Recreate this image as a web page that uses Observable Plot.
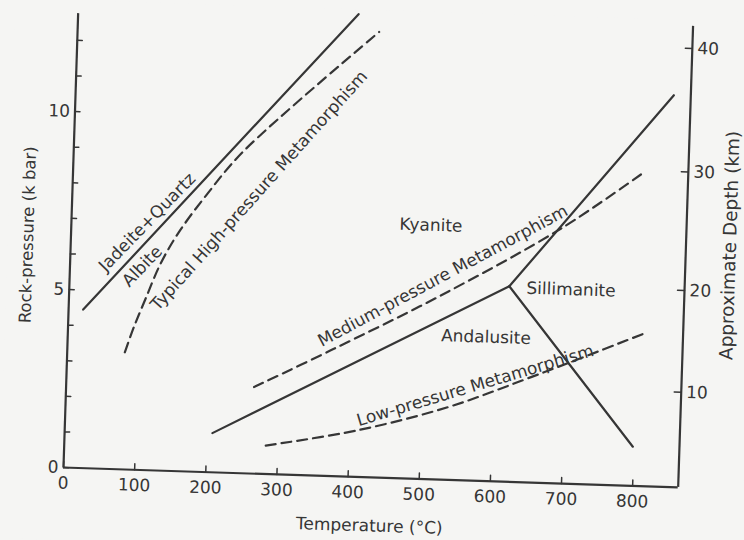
<!DOCTYPE html>
<html>
<head>
<meta charset="utf-8">
<script src="https://cdn.jsdelivr.net/npm/d3@7"></script>
<script src="https://cdn.jsdelivr.net/npm/@observablehq/plot@0.6"></script>
<style>
  html, body { margin: 0; padding: 0; background: #f5f5f3; overflow: hidden; }
  #chart svg { display: block; transform: rotate(1.85deg); transform-origin: 63px 467px; }
</style>
</head>
<body>
<div id="chart"></div>
<script>
// ---- axis ticks ----
const tempTicks = [0, 100, 200, 300, 400, 500, 600, 700, 800];
const pressureTicks = [0, 1, 2, 3, 4, 5, 6, 7, 8, 9, 10, 11, 12];
const pressureLabels = [0, 5, 10];
const depthLabels = [10, 20, 30, 40];
const depthTickKbar = [2.67, 5.53, 8.86, 12.33];
const tempMax = 864;
const pressureMax = 13;
const leftAxisTop = 12.75;
const rightAxisTop = 12.95;

// ---- curves (Temperature °C, Pressure kbar) ----
const jadeiteT = [20.5, 393.8];
const jadeiteP = [4.45, 12.99];

const highPT = [80.9, 92.4, 107.6, 127.1, 151.4, 189.6, 238, 423.5];
const highPP = [3.29, 4.00, 4.81, 5.81, 6.71, 7.81, 9.03, 12.51];

const kyAndT = [207.5, 617.8];
const kyAndP = [1.10, 5.49];
const kySilT = [617.8, 840.2];
const kySilP = [5.49, 11.0];
const andSilT = [617.8, 798.5];
const andSilP = [5.49, 1.10];

const mediumT = [263.9, 370, 522, 688, 802.4];
const mediumP = [2.43, 3.53, 5.17, 7.16, 8.82];

const lowT = [283, 411, 536.7, 652.4, 814.4];
const lowP = [0.80, 1.31, 2.04, 2.96, 4.33];

// ---- annotation anchors ----
const labelText = ["Jadeite+Quartz", "Albite", "Typical High-pressure Metamorphism",
  "Kyanite", "Medium-pressure Metamorphism", "Sillimanite", "Andalusite", "Low-pressure Metamorphism"];
const labelT = [106.5, 101.5, 262, 505, 524, 704.6, 587.3, 574.4];
const labelP = [6.96, 5.72, 7.95, 7.13, 5.72, 5.45, 4.04, 2.67];

const rows = (T, P) => T.map((t, i) => ({T: t, P: P[i]}));
const lbl = (i) => [{text: labelText[i], T: labelT[i], P: labelP[i]}];

const ink = "#363636";
const font = "DejaVu Sans, Verdana, sans-serif";
const solid = {x: "T", y: "P", stroke: ink, strokeWidth: 2.2};
const dashed = {x: "T", y: "P", stroke: ink, strokeWidth: 2.2, strokeDasharray: "10,6", curve: "catmull-rom"};
const txt = (i, rotate) => Plot.text(lbl(i), {x: "T", y: "P", text: "text", rotate, fontSize: 17, fill: ink});
const tickLine = {draw(context, l) { context.moveTo(0, 0); context.lineTo(0, -l); }};

const chart = Plot.plot({
  width: 744,
  height: 540,
  marginLeft: 63,
  marginRight: 66,
  marginTop: 4,
  marginBottom: 73,
  style: {fontFamily: font, background: "#f5f5f3", color: ink},
  x: {domain: [0, tempMax]},
  y: {domain: [0, pressureMax]},
  marks: [
    // frame lines
    Plot.ruleY([0], {x1: 0, x2: tempMax, stroke: ink, strokeWidth: 2.2}),
    Plot.ruleX([0], {y1: 0, y2: leftAxisTop, stroke: ink, strokeWidth: 2.2}),
    Plot.ruleX([tempMax], {y1: 0, y2: rightAxisTop, stroke: ink, strokeWidth: 2.2}),
    // inward tick marks
    Plot.vector(tempTicks, {x: d => d, y: 0, length: 6, rotate: 0, anchor: "start", shape: tickLine, stroke: ink, strokeWidth: 1.5}),
    Plot.vector(pressureTicks, {x: 0, y: d => d, length: 5, rotate: 90, anchor: "start", shape: tickLine, stroke: ink, strokeWidth: 1.5}),
    Plot.vector(depthTickKbar, {x: tempMax, y: d => d, length: 7, rotate: -90, anchor: "start", shape: tickLine, stroke: ink, strokeWidth: 1.5}),
    // tick labels
    Plot.axisX(tempTicks, {tickSize: 0, tickPadding: 9, fontSize: 17, label: null, fill: ink}),
    Plot.axisY(pressureLabels, {tickSize: 0, tickPadding: 5, fontSize: 17, label: null, fill: ink}),
    Plot.axisY(depthTickKbar, {anchor: "right", tickSize: 0, tickPadding: 5, fontSize: 17, label: null, fill: ink,
      tickFormat: d => depthLabels[depthTickKbar.indexOf(d)]}),
    // axis titles
    Plot.text(["Temperature (°C)"], {frameAnchor: "bottom", dy: 54, fontSize: 17, fill: ink}),
    Plot.text(["Rock-pressure (k bar)"], {frameAnchor: "left", textAnchor: "middle", rotate: -90, dx: -43, dy: 0, fontSize: 16.5, fill: ink}),
    Plot.text(["Approximate Depth (km)"], {frameAnchor: "right", textAnchor: "middle", rotate: -90, dx: 44, dy: -12, fontSize: 18.5, fill: ink}),
    // phase boundaries
    Plot.line(rows(jadeiteT, jadeiteP), solid),
    Plot.line(rows(kyAndT, kyAndP), solid),
    Plot.line(rows(kySilT, kySilP), solid),
    Plot.line(rows(andSilT, andSilP), solid),
    // metamorphic gradients
    Plot.line(rows(highPT, highPP), dashed),
    Plot.line(rows(mediumT, mediumP), dashed),
    Plot.line(rows(lowT, lowP), dashed),
    // labels
    txt(0, -47.5),
    txt(1, -48),
    txt(2, -50),
    txt(3, 0),
    txt(4, -30),
    txt(5, 0),
    txt(6, 0),
    txt(7, -18.5)
  ]
});
document.getElementById("chart").appendChild(chart);
</script>
</body>
</html>
